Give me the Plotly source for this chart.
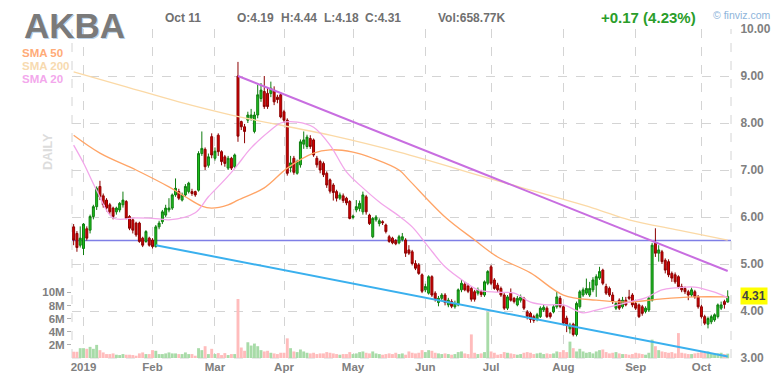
import pandas as pd
import plotly.graph_objects as go

# ---- trading calendar -------------------------------------------------------
holidays = ["2018-12-25", "2019-01-01", "2019-01-21", "2019-02-18",
            "2019-04-19", "2019-05-27", "2019-07-04", "2019-09-02"]
dates = pd.bdate_range("2018-12-27", "2019-10-11", freq="C",
                       holidays=holidays).strftime("%Y-%m-%d").tolist()

# ---- daily OHLC -------------------------------------------------------------
opens = [
    5.79, 5.65, 5.40, 5.33, 5.75, 5.72, 6.01, 6.22, 6.65, 6.45,
    6.36, 6.26, 6.19, 6.11, 6.15, 6.26, 6.33, 6.01, 5.94, 5.87,
    5.87, 5.55, 5.48, 5.55, 5.51, 5.37, 5.79, 5.90, 6.04, 6.15,
    6.19, 6.47, 6.54, 6.36, 6.47, 6.54, 6.54, 6.54, 6.57, 7.35,
    7.44, 7.10, 7.71, 7.25, 7.74, 7.39, 7.28, 7.04, 7.25, 7.07,
    9.00, 8.03, 7.92, 8.06, 8.10, 7.82, 8.17, 8.52, 8.67, 8.63,
    8.63, 8.70, 8.55, 8.60, 8.24, 8.06, 7.05, 7.25, 6.93, 7.11,
    7.55, 7.50, 7.67, 7.64, 7.25, 7.18, 7.14, 6.93, 6.79, 6.68,
    6.54, 6.40, 6.45, 6.40, 6.33, 5.99, 6.15, 6.18, 6.11, 6.43,
    6.04, 5.58, 5.94, 5.86, 5.90, 5.83, 5.58, 5.55, 5.50, 5.45,
    5.52, 5.51, 5.30, 5.26, 5.01, 4.98, 4.77, 4.45, 4.38, 4.73,
    4.38, 4.18, 4.27, 4.34, 4.13, 4.20, 4.09, 4.13, 4.45, 4.57,
    4.53, 4.48, 4.41, 4.38, 4.41, 4.34, 4.59, 4.94, 4.66, 4.55,
    4.48, 4.34, 4.06, 4.38, 4.27, 4.13, 4.23, 4.27, 3.98, 3.95,
    3.88, 3.82, 3.88, 4.02, 4.06, 3.95, 3.98, 4.09, 4.27, 4.09,
    3.85, 3.62, 3.72, 3.50, 4.09, 4.34, 4.38, 4.34, 4.45, 4.55,
    4.70, 4.87, 4.52, 4.48, 4.34, 4.06, 4.23, 4.09, 4.23, 4.30,
    4.34, 4.16, 4.13, 4.09, 3.99, 4.02, 4.23, 5.44, 5.23, 5.26,
    5.08, 5.05, 4.80, 4.77, 4.73, 4.52, 4.48, 4.41, 4.34, 4.41,
    4.30, 4.09, 3.88, 3.72, 3.77, 3.81, 3.88, 4.06, 4.20, 4.19,
]
highs = [
    5.85, 5.70, 5.80, 5.87, 5.80, 6.05, 6.26, 6.65, 6.77, 6.50,
    6.40, 6.30, 6.22, 6.22, 6.32, 6.54, 6.36, 6.04, 5.97, 5.90,
    5.90, 5.58, 5.72, 5.58, 5.55, 5.83, 5.92, 6.15, 6.26, 6.40,
    6.50, 6.82, 6.60, 6.52, 6.70, 6.75, 6.60, 6.56, 7.40, 7.82,
    7.48, 7.35, 7.78, 7.48, 7.78, 7.42, 7.32, 7.30, 7.28, 7.35,
    9.30, 8.05, 7.98, 8.24, 8.30, 8.24, 8.81, 8.85, 9.00, 8.75,
    8.88, 8.78, 8.60, 8.65, 8.28, 8.10, 7.30, 7.30, 7.22, 7.65,
    7.82, 7.75, 7.74, 7.67, 7.30, 7.22, 7.18, 6.97, 6.82, 6.72,
    6.58, 6.52, 6.50, 6.43, 6.36, 6.05, 6.36, 6.35, 6.54, 6.47,
    6.07, 6.00, 6.04, 5.97, 5.93, 5.86, 5.62, 5.58, 5.53, 5.62,
    5.66, 5.55, 5.40, 5.30, 5.08, 5.02, 4.80, 4.58, 4.76, 4.76,
    4.42, 4.32, 4.38, 4.38, 4.28, 4.25, 4.22, 4.48, 4.66, 4.62,
    4.58, 4.52, 4.45, 4.50, 4.45, 4.65, 4.87, 4.98, 4.70, 4.60,
    4.52, 4.38, 4.34, 4.48, 4.30, 4.32, 4.35, 4.30, 4.02, 3.98,
    3.92, 3.96, 4.10, 4.13, 4.10, 3.98, 4.13, 4.41, 4.32, 4.12,
    3.90, 3.75, 3.75, 4.20, 4.45, 4.50, 4.69, 4.62, 4.72, 4.78,
    4.94, 4.90, 4.58, 4.52, 4.40, 4.20, 4.27, 4.30, 4.30, 4.45,
    4.38, 4.20, 4.16, 4.13, 4.10, 4.30, 5.45, 5.76, 5.40, 5.30,
    5.12, 5.10, 4.84, 4.82, 4.76, 4.58, 4.52, 4.45, 4.50, 4.45,
    4.34, 4.13, 3.92, 3.88, 3.92, 3.95, 4.16, 4.20, 4.24, 4.44,
]
lows = [
    5.40, 5.26, 5.35, 5.19, 5.50, 5.65, 5.95, 6.15, 6.36, 6.20,
    6.12, 6.05, 5.95, 6.05, 6.10, 6.20, 5.95, 5.72, 5.65, 5.58,
    5.45, 5.36, 5.45, 5.37, 5.33, 5.35, 5.74, 5.85, 6.00, 6.10,
    6.15, 6.43, 6.36, 6.33, 6.43, 6.50, 6.45, 6.43, 6.54, 7.30,
    7.00, 7.05, 7.25, 7.20, 7.30, 7.10, 7.07, 7.00, 7.00, 7.04,
    7.60, 7.85, 7.57, 8.00, 8.05, 7.78, 8.10, 8.45, 8.30, 8.30,
    8.55, 8.38, 8.42, 8.10, 8.00, 6.88, 6.95, 6.90, 6.90, 7.05,
    7.45, 7.45, 7.45, 7.28, 7.05, 6.93, 6.85, 6.62, 6.50, 6.35,
    6.33, 6.36, 6.30, 6.25, 5.95, 5.95, 6.10, 6.12, 6.05, 6.05,
    5.83, 5.55, 5.90, 5.80, 5.83, 5.65, 5.45, 5.42, 5.40, 5.42,
    5.48, 5.15, 5.19, 4.97, 4.87, 4.77, 4.38, 4.40, 4.35, 4.30,
    4.20, 4.10, 4.22, 4.12, 4.08, 4.06, 4.05, 4.10, 4.40, 4.42,
    4.38, 4.20, 4.20, 4.33, 4.30, 4.30, 4.55, 4.55, 4.45, 4.40,
    4.30, 4.02, 4.02, 4.20, 4.16, 4.10, 4.18, 4.02, 3.82, 3.75,
    3.75, 3.78, 3.85, 3.98, 3.85, 3.84, 3.95, 4.05, 4.06, 3.70,
    3.55, 3.52, 3.46, 3.46, 4.05, 4.30, 4.34, 4.30, 4.40, 4.30,
    4.66, 4.55, 4.34, 4.30, 4.15, 4.02, 4.02, 4.05, 4.10, 4.23,
    4.08, 4.02, 3.85, 3.90, 3.95, 3.98, 4.20, 5.15, 5.05, 5.00,
    4.80, 4.72, 4.62, 4.58, 4.48, 4.40, 4.36, 4.23, 4.30, 4.26,
    4.05, 3.84, 3.70, 3.63, 3.72, 3.77, 3.84, 4.02, 4.05, 4.18,
]
closes = [
    5.51, 5.35, 5.55, 5.85, 5.55, 6.01, 6.22, 6.61, 6.43, 6.26,
    6.19, 6.11, 6.01, 6.19, 6.29, 6.36, 5.97, 5.76, 5.72, 5.62,
    5.48, 5.40, 5.69, 5.40, 5.37, 5.79, 5.87, 6.11, 6.19, 6.19,
    6.47, 6.61, 6.40, 6.47, 6.65, 6.72, 6.50, 6.47, 7.35, 7.46,
    7.07, 7.28, 7.32, 7.40, 7.39, 7.18, 7.14, 7.25, 7.04, 7.32,
    7.72, 7.92, 7.82, 8.17, 8.17, 8.17, 8.60, 8.70, 8.35, 8.35,
    8.74, 8.45, 8.50, 8.13, 8.06, 6.93, 7.15, 6.95, 7.18, 7.60,
    7.64, 7.70, 7.50, 7.32, 7.11, 7.00, 6.90, 6.68, 6.55, 6.52,
    6.40, 6.47, 6.35, 6.30, 5.97, 6.02, 6.22, 6.29, 6.47, 6.11,
    5.86, 5.97, 6.00, 5.92, 5.88, 5.69, 5.48, 5.45, 5.43, 5.58,
    5.58, 5.23, 5.23, 5.01, 4.91, 4.80, 4.42, 4.52, 4.73, 4.34,
    4.25, 4.27, 4.34, 4.18, 4.23, 4.10, 4.16, 4.45, 4.59, 4.45,
    4.42, 4.25, 4.25, 4.45, 4.35, 4.62, 4.84, 4.59, 4.48, 4.45,
    4.34, 4.06, 4.30, 4.23, 4.20, 4.27, 4.30, 4.06, 3.88, 3.82,
    3.80, 3.92, 4.06, 4.08, 3.88, 3.88, 4.09, 4.30, 4.10, 3.74,
    3.70, 3.70, 3.50, 4.16, 4.41, 4.45, 4.48, 4.48, 4.66, 4.73,
    4.84, 4.59, 4.38, 4.34, 4.20, 4.16, 4.06, 4.23, 4.13, 4.27,
    4.13, 4.06, 3.88, 3.95, 4.06, 4.27, 5.40, 5.23, 5.30, 5.05,
    4.87, 4.77, 4.70, 4.62, 4.52, 4.45, 4.41, 4.34, 4.45, 4.30,
    4.09, 3.88, 3.74, 3.84, 3.88, 3.92, 4.13, 4.13, 4.14, 4.31,
]
# daily volume, millions of shares
volumes = [
    0.96, 0.95, 1.5, 1.5, 1.4, 1.7, 1.4, 2.0, 1.2, 0.85,
    0.6, 0.6, 0.7, 0.5, 0.45, 0.6, 0.5, 0.5, 0.45, 0.35,
    0.7, 0.85, 0.6, 0.6, 1.2, 1.1, 0.6, 0.6, 0.7, 0.85,
    0.7, 0.7, 0.6, 0.6, 0.85, 0.6, 0.6, 0.35, 1.5, 1.2,
    1.8, 0.6, 1.4, 0.6, 0.75, 0.45, 0.75, 0.45, 0.6, 0.6,
    9.0, 1.6, 1.1, 2.4, 1.9, 2.2, 1.8, 1.2, 1.0, 1.1,
    0.8, 0.7, 0.6, 0.8, 0.8, 3.0, 1.5, 1.0, 0.9, 1.3,
    1.0, 0.8, 0.7, 0.8, 0.6, 0.7, 0.7, 0.9, 0.8, 0.7,
    0.6, 0.5, 0.6, 0.6, 0.9, 0.6, 0.7, 0.9, 1.0, 0.8,
    0.7, 1.0, 0.7, 0.6, 0.5, 0.6, 0.7, 0.6, 0.8, 0.6,
    0.7, 0.5, 1.0, 0.8, 0.7, 0.8, 1.2, 0.9, 1.2, 1.1,
    0.8, 0.7, 0.6, 0.7, 0.6, 0.5, 0.6, 0.9, 1.0, 0.7,
    0.6, 3.6, 0.8, 0.6, 0.7, 0.9, 7.0, 1.0, 0.8, 0.5,
    0.6, 0.9, 0.8, 0.7, 0.6, 0.5, 0.6, 0.8, 0.9, 0.8,
    0.6, 0.7, 0.8, 0.6, 0.7, 0.6, 0.7, 1.0, 0.9, 1.2,
    0.9, 2.5, 1.5, 1.0, 1.4, 1.0, 0.8, 0.9, 0.7, 1.0,
    1.2, 1.3, 0.9, 0.7, 0.8, 0.9, 0.7, 0.6, 0.6, 0.5,
    0.6, 0.8, 0.7, 0.6, 0.5, 0.8, 2.8, 1.8, 1.2, 1.0,
    0.9, 0.8, 0.9, 0.7, 3.8, 0.8, 0.7, 0.6, 0.6, 0.7,
    0.8, 0.9, 0.8, 1.0, 0.7, 0.6, 0.7, 0.8, 0.6, 0.66,
]

# ---- moving averages (sampled) ---------------------------------------------
sma200_dates = ["2018-12-27", "2019-01-22", "2019-02-13", "2019-03-08", "2019-04-22",
                "2019-05-21", "2019-07-02", "2019-08-14", "2019-08-29", "2019-09-20",
                "2019-10-11"]
sma200_vals = [9.09, 8.77, 8.45, 8.17, 7.74, 7.38, 6.79, 6.19, 5.94, 5.72, 5.51]

sma50_dates = ["2018-12-27", "2019-01-09", "2019-01-25", "2019-02-08", "2019-02-15",
               "2019-02-25", "2019-02-28", "2019-03-07", "2019-03-12", "2019-03-22",
               "2019-04-02", "2019-04-12", "2019-04-22", "2019-05-01", "2019-05-09",
               "2019-05-21", "2019-05-24", "2019-06-11", "2019-06-24", "2019-07-03",
               "2019-07-18", "2019-08-01", "2019-08-15", "2019-08-29", "2019-09-13",
               "2019-09-27", "2019-10-11"]
sma50_vals = [7.74, 7.36, 7.00, 6.64, 6.43, 6.23, 6.19, 6.26, 6.36, 6.62,
              7.04, 7.36, 7.43, 7.38, 7.25, 7.00, 6.79, 6.00, 5.51, 5.15,
              4.81, 4.34, 4.23, 4.19, 4.26, 4.30, 4.30]

sma20_dates = ["2018-12-27", "2019-01-02", "2019-01-08", "2019-01-15", "2019-01-25",
               "2019-02-05", "2019-02-08", "2019-02-21", "2019-02-27", "2019-03-05",
               "2019-03-08", "2019-03-12", "2019-03-18", "2019-03-26", "2019-03-29",
               "2019-04-05", "2019-04-12", "2019-04-22", "2019-04-29", "2019-05-06",
               "2019-05-13", "2019-05-21", "2019-05-28", "2019-06-04", "2019-06-11",
               "2019-06-19", "2019-06-25", "2019-07-03", "2019-07-11", "2019-07-18",
               "2019-07-25", "2019-08-01", "2019-08-09", "2019-08-15", "2019-08-29",
               "2019-09-06", "2019-09-13", "2019-09-19", "2019-09-27", "2019-10-07",
               "2019-10-11"]
sma20_vals = [7.53, 7.15, 6.57, 5.98, 5.98, 5.96, 5.94, 6.09, 6.43, 6.72,
              6.95, 7.12, 7.47, 7.85, 8.00, 8.02, 7.91, 7.53, 6.96, 6.62,
              6.32, 6.02, 5.79, 5.36, 4.94, 4.62, 4.45, 4.40, 4.38, 4.19,
              4.13, 4.13, 3.96, 4.02, 4.19, 4.28, 4.45, 4.49, 4.51, 4.40,
              4.28]

# ---- drawn trendlines / level ------------------------------------------------
resist_dates, resist_vals = ["2019-03-12", "2019-10-11"], [9.00, 4.85]
support_dates, support_vals = ["2019-02-04", "2019-10-11"], [5.40, 3.03]
level_price = 5.50

# ---- axis labels -------------------------------------------------------------
month_ticks = ["2019-01-02", "2019-02-01", "2019-03-01", "2019-04-01", "2019-05-01",
               "2019-06-03", "2019-07-01", "2019-08-01", "2019-09-03", "2019-10-01"]
month_labels = ["2019", "Feb", "Mar", "Apr", "May", "Jun", "Jul", "Aug", "Sep", "Oct"]
vol_ticks = [2, 4, 6, 8, 10]
vol_labels = ["2M", "4M", "6M", "8M", "10M"]

for arr in (opens, highs, lows, closes, volumes):
    assert len(arr) == len(dates), (len(arr), len(dates))

# ---- styling -----------------------------------------------------------------
FONT = "Liberation Sans, Arial, sans-serif"
GRAY = "#808080"
GRID = "#d4d4d4"
W, H = 783, 388
PL, PR, PT, PB = 72, 733, 29, 358   # plot area in pixels


def fx(px):
    return (px - PL) / (PR - PL)


def fy(py):
    return (PB - py) / (PB - PT)


vol_colors = ["#a8dba8" if c >= o else "#ffbcbc" for o, c in zip(opens, closes)]

fig = go.Figure()

fig.add_trace(go.Bar(x=dates, y=volumes, marker=dict(color=vol_colors, line_width=0),
                     yaxis="y", hoverinfo="skip", showlegend=False))

fig.add_trace(go.Scatter(x=sma200_dates, y=sma200_vals, mode="lines", yaxis="y2",
                         line=dict(color="#fbd9a6", width=1.3, shape="spline"),
                         showlegend=False))
fig.add_trace(go.Scatter(x=sma50_dates, y=sma50_vals, mode="lines", yaxis="y2",
                         line=dict(color="#ffa466", width=1.3, shape="spline"),
                         showlegend=False))
fig.add_trace(go.Scatter(x=sma20_dates, y=sma20_vals, mode="lines", yaxis="y2",
                         line=dict(color="#f2a6ea", width=1.3, shape="spline"),
                         showlegend=False))
fig.add_trace(go.Scatter(x=resist_dates, y=resist_vals, mode="lines", yaxis="y2",
                         line=dict(color="#c86ee0", width=2), showlegend=False))
fig.add_trace(go.Scatter(x=support_dates, y=support_vals, mode="lines", yaxis="y2",
                         line=dict(color="#3ab0ee", width=2), showlegend=False))

fig.add_trace(go.Candlestick(
    x=dates, open=opens, high=highs, low=lows, close=closes, yaxis="y2",
    increasing=dict(line=dict(color="#0f7d0f", width=1), fillcolor="#1fc21f"),
    decreasing=dict(line=dict(color="#8c0000", width=1), fillcolor="#d80000"),
    whiskerwidth=0, showlegend=False))

shapes = [
    dict(type="line", xref="paper", yref="y2", x0=0, x1=1, y0=level_price, y1=level_price,
         line=dict(color="#7f7fe6", width=1.5), layer="between"),
    dict(type="line", xref="paper", yref="paper", x0=0, x1=0, y0=0, y1=1,
         line=dict(color=GRID, width=1, dash="dash"), layer="below"),
    dict(type="line", xref="paper", yref="paper", x0=1, x1=1, y0=0, y1=1,
         line=dict(color=GRID, width=1, dash="dash"), layer="below"),
    dict(type="line", xref="paper", yref="paper", x0=0, x1=1, y0=0, y1=0,
         line=dict(color=GRID, width=1, dash="dash"), layer="below"),
]

ann = []


def text(px, py, s, size, color, bold=True, xanchor="left", **kw):
    ann.append(dict(xref="paper", yref="paper", x=fx(px), y=fy(py), text=s,
                    showarrow=False, xanchor=xanchor, yanchor="middle",
                    font=dict(family=FONT, size=size, color=color,
                              weight="bold" if bold else "normal"), **kw))


# ticker with soft shadow
text(23, 26.5, "AKBA", 35, "#b9d2ea")
text(22, 25.5, "AKBA", 35, "#7a7a7a")
text(163, 18, "Oct 11", 12, "#707070")
text(235, 18, "O:4.19", 12, "#707070")
text(280, 18, "H:4.44", 12, "#707070")
text(323, 18, "L:4.18", 12, "#707070")
text(364, 18, "C:4.31", 12, "#707070")
text(437, 18, "Vol:658.77K", 12, "#707070")
text(601, 18, "+0.17 (4.23%)", 15, "#2a9d2a")
text(713, 15, "\u00a9 finviz.com", 10.5, "#8db4da", bold=False)
text(20, 53, "SMA 50", 11.5, "#ffab78")
text(20, 66, "SMA 200", 11.5, "#f7dab0")
text(20, 79, "SMA 20", 11.5, "#f3a8ec")
text(48, 152, "DAILY", 12.5, "#dcdcdc", xanchor="center", textangle=-90)
# last price tag
ann.append(dict(xref="paper", yref="y2", x=fx(742), y=closes[-1], text="4.31",
                showarrow=False, xanchor="left", yanchor="middle",
                bgcolor="#ffff00", borderpad=1,
                font=dict(family=FONT, size=12, color="#444444", weight="bold")))

fig.update_layout(
    width=W, height=H,
    margin=dict(l=PL, r=W - PR, t=PT, b=H - PB),
    paper_bgcolor="white", plot_bgcolor="white",
    showlegend=False, bargap=0.12, boxgap=0.15,
    shapes=shapes, annotations=ann,
    font=dict(family=FONT, color=GRAY),
    xaxis=dict(type="category", range=[-0.5, len(dates)],
               tickvals=month_ticks, ticktext=month_labels,
               showgrid=True, gridcolor=GRID, griddash="dash", gridwidth=1,
               ticks="", zeroline=False, showline=False,
               rangeslider=dict(visible=False),
               tickfont=dict(family=FONT, size=11.5, color=GRAY, weight="bold")),
    yaxis=dict(side="left", range=[0, 50.2], tickvals=vol_ticks, ticktext=vol_labels,
               showgrid=False, zeroline=False, showline=False,
               ticks="outside", ticklen=4, tickcolor="#b0b0b0",
               tickfont=dict(family=FONT, size=11.5, color=GRAY, weight="bold")),
    yaxis2=dict(overlaying="y", side="right", range=[3, 10], dtick=1, tickformat=".2f",
                showgrid=True, gridcolor=GRID, griddash="dash", gridwidth=1,
                zeroline=False, showline=False, ticks="outside", ticklen=6,
                tickcolor="rgba(0,0,0,0)",
                tickfont=dict(family=FONT, size=12, color=GRAY, weight="bold")),
)

fig.write_html("out.html")
